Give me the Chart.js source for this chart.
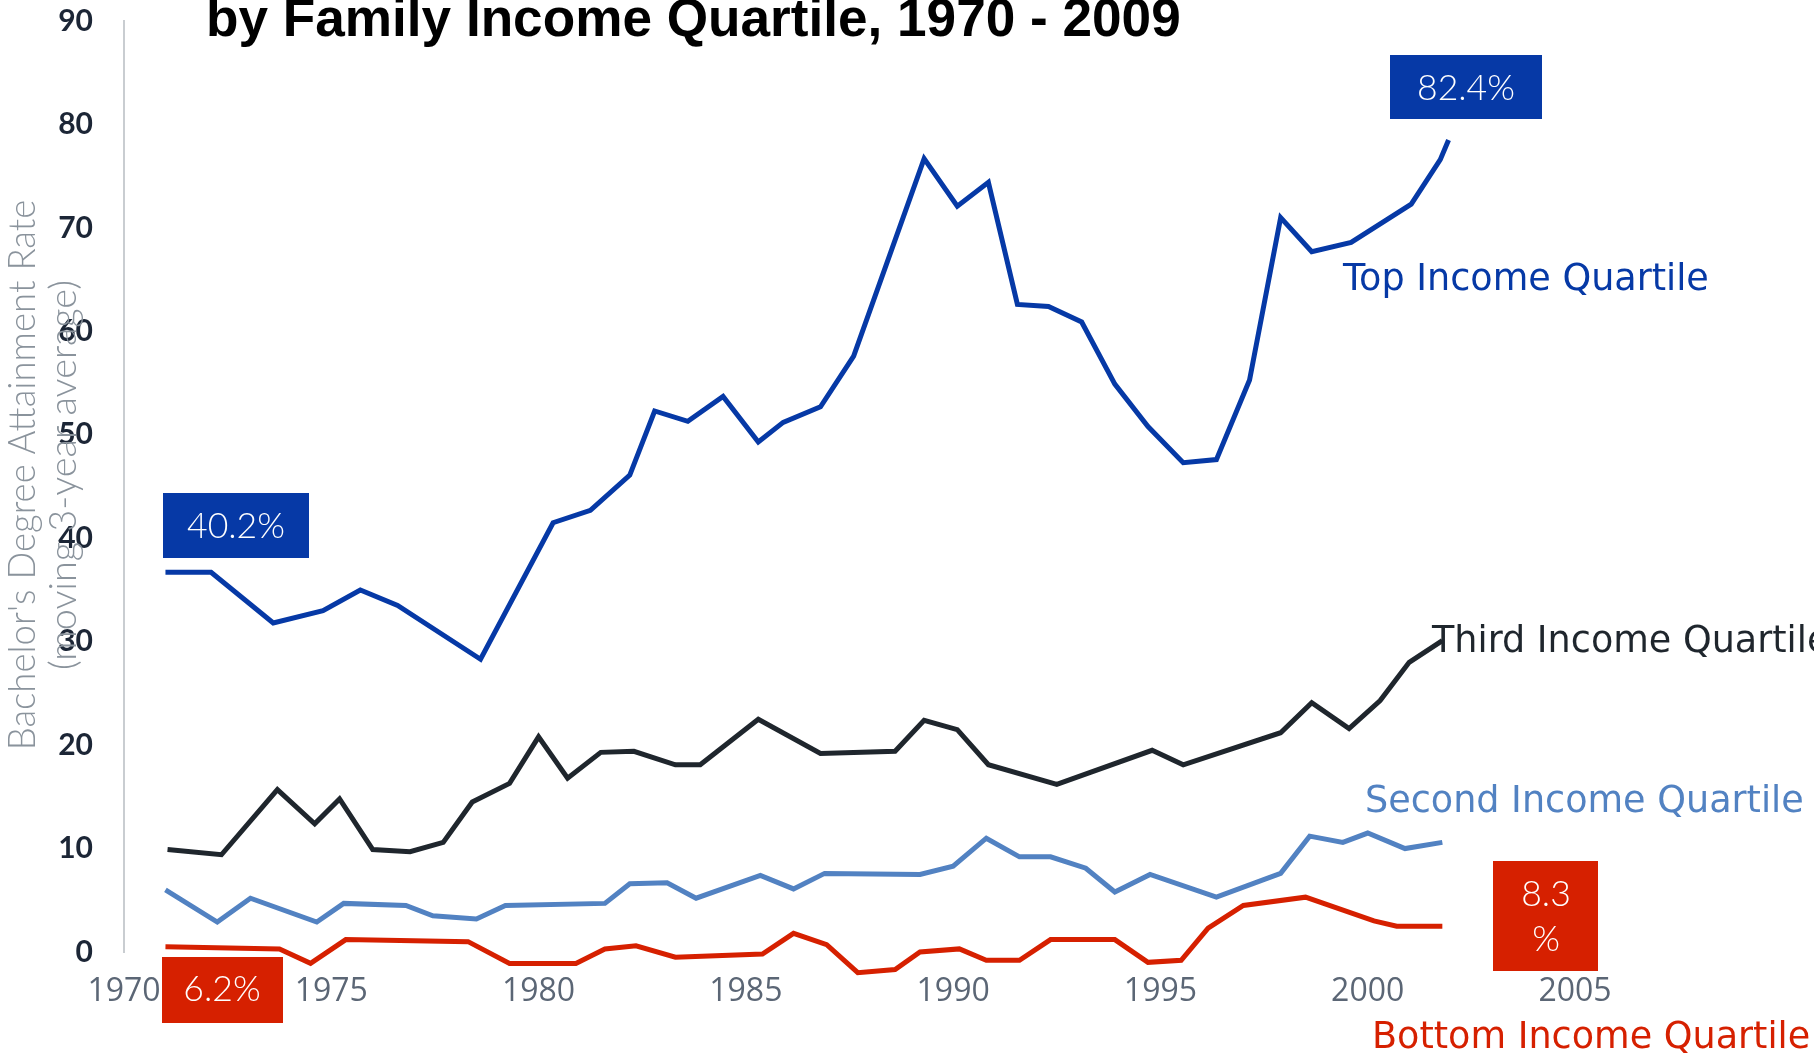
<!DOCTYPE html>
<html><head><meta charset="utf-8">
<script src="https://cdn.jsdelivr.net/npm/chart.js@4.4.0/dist/chart.umd.min.js"></script>
<style>html,body{margin:0;padding:0;background:#fff;overflow:hidden}#wrap{position:relative;width:1814px;height:1053px}</style>
</head><body><div id="wrap"><canvas id="c"></canvas></div>
<script>
// ---- data ----
const xTicks = [1970, 1975, 1980, 1985, 1990, 1995, 2000, 2005];
const yTicks = [0, 10, 20, 30, 40, 50, 60, 70, 80, 90];

const topYears   = [1971.0,1972.1,1973.6,1974.8,1975.7,1976.6,1978.6,1980.35,1981.25,1982.2,1982.8,1983.6,1984.45,1985.3,1985.9,1986.8,1987.6,1989.3,1990.1,1990.85,1991.55,1992.3,1993.1,1993.9,1994.7,1995.55,1996.35,1997.15,1997.9,1998.65,1999.6,2001.05,2001.75,2001.95];
const topValues  = [36.7,36.7,31.8,33.0,35.0,33.5,28.3,41.5,42.7,46.1,52.3,51.3,53.7,49.3,51.2,52.7,57.6,76.7,72.1,74.4,62.6,62.4,60.9,54.9,50.8,47.3,47.6,55.3,71.0,67.7,68.6,72.3,76.6,78.5];

const thirdYears  = [1971.05,1972.35,1973.7,1974.6,1975.2,1976.0,1976.9,1977.7,1978.4,1979.3,1980.0,1980.7,1981.5,1982.3,1983.3,1983.9,1985.3,1986.8,1988.6,1989.3,1990.1,1990.85,1992.5,1994.8,1995.55,1997.9,1998.65,1999.55,2000.3,2001.0,2001.8];
const thirdValues = [9.9,9.4,15.7,12.4,14.8,9.9,9.7,10.6,14.5,16.3,20.8,16.8,19.3,19.4,18.1,18.1,22.5,19.2,19.4,22.4,21.5,18.1,16.2,19.5,18.1,21.2,24.1,21.6,24.3,28.0,30.1];

const secondYears  = [1971.0,1972.25,1973.05,1974.65,1975.3,1976.8,1977.45,1978.5,1979.2,1981.6,1982.2,1983.1,1983.8,1985.35,1986.15,1986.9,1989.2,1990.0,1990.8,1991.6,1992.35,1993.2,1993.9,1994.75,1996.35,1997.9,1998.6,1999.4,2000.0,2000.9,2001.8];
const secondValues = [6.0,2.9,5.2,2.9,4.7,4.5,3.5,3.2,4.5,4.7,6.6,6.7,5.2,7.4,6.1,7.6,7.5,8.3,11.0,9.2,9.2,8.1,5.8,7.5,5.3,7.6,11.2,10.6,11.5,10.0,10.6];

const bottomYears  = [1971.0,1973.75,1974.5,1975.35,1978.3,1979.3,1980.9,1981.6,1982.35,1983.3,1985.4,1986.15,1986.95,1987.7,1988.6,1989.2,1990.15,1990.8,1991.6,1992.35,1993.9,1994.7,1995.5,1996.15,1997.0,1998.5,2000.15,2000.7,2001.8];
const bottomValues = [0.5,0.3,-1.1,1.2,1.0,-1.1,-1.1,0.3,0.6,-0.5,-0.2,1.8,0.7,-2.0,-1.7,0.0,0.3,-0.8,-0.8,1.2,1.2,-1.0,-0.8,2.3,4.5,5.3,3.0,2.5,2.5];

const seriesNames = ['Top Income Quartile', 'Third Income Quartile', 'Second Income Quartile', 'Bottom Income Quartile'];
const titleText = 'by Family Income Quartile, 1970 - 2009';
const yTitle = ["Bachelor's Degree Attainment Rate", '(moving 3-year average)'];
const boxTexts = ['40.2%', '82.4%', '6.2%', ['8.3', '%']];

// ---- styles ----
const C_TOP = '#0639a6', C_THIRD = '#1f262d', C_SECOND = '#5282c2', C_BOTTOM = '#d62000';

function pts(xs, ys) { return xs.map((x, i) => ({ x: x, y: ys[i] })); }
function ds(label, xs, ys, color) {
  return { label, data: pts(xs, ys), borderColor: color, backgroundColor: color, borderWidth: 5,
           pointRadius: 0, tension: 0, clip: false, borderJoinStyle: 'miter' };
}
function fitSize(ctx, text, weight, family, targetW, base) {
  ctx.font = `${weight} ${base}px ${family}`;
  return base * targetW / ctx.measureText(text).width;
}

const annot = {
  id: 'annot',
  afterDatasetsDraw(chart) {
    const ctx = chart.ctx;
    ctx.save();
    // title
    const TF = '"Liberation Sans", Arial, sans-serif';
    let fs = fitSize(ctx, titleText, 'bold', TF, 975, 44);
    ctx.font = `bold ${fs}px ${TF}`;
    ctx.fillStyle = '#000'; ctx.textAlign = 'left'; ctx.textBaseline = 'alphabetic';
    ctx.fillText(titleText, 206, 36);

    // y axis title (two rotated lines)
    const YF = 'Lato, "Open Sans", sans-serif';
    ctx.fillStyle = '#8a939c';
    const ylines = [[yTitle[0], 23, 551], [yTitle[1], 64, 390]];
    ylines.forEach(([t, cx, len]) => {
      ctx.save();
      ctx.translate(cx, 475); ctx.rotate(-Math.PI / 2);
      const s = fitSize(ctx, t, '300', YF, len, 30);
      ctx.font = `300 ${s}px ${YF}`;
      ctx.textAlign = 'center'; ctx.textBaseline = 'middle';
      ctx.fillText(t, 0, 0);
      ctx.restore();
    });

    // value boxes
    const BF = 'Lato, "Open Sans", sans-serif';
    const bs = fitSize(ctx, boxTexts[0], '300', BF, 98, 36);
    ctx.font = `300 ${bs}px ${BF}`;
    ctx.textAlign = 'center'; ctx.textBaseline = 'middle';
    const boxes = [
      [163, 493, 146, 65, C_TOP, [[boxTexts[0], 236, 527]]],
      [1390, 55, 152, 64, C_TOP, [[boxTexts[1], 1466, 89]]],
      [162, 957, 121, 66, C_BOTTOM, [[boxTexts[2], 222, 990]]],
      [1493, 861, 105, 110, C_BOTTOM, [[boxTexts[3][0], 1546, 895], [boxTexts[3][1], 1546, 940]]]
    ];
    boxes.forEach(([x, y, w, h, col, texts]) => {
      ctx.fillStyle = col; ctx.fillRect(x, y, w, h);
      ctx.fillStyle = '#fff';
      texts.forEach(([t, tx, ty]) => ctx.fillText(t, tx, ty));
    });

    // series labels
    const SF = '"DejaVu Sans", Verdana, sans-serif';
    const ss = fitSize(ctx, seriesNames[0], 'normal', SF, 366, 36);
    ctx.font = `normal ${ss}px ${SF}`;
    ctx.textAlign = 'left'; ctx.textBaseline = 'alphabetic';
    const lbls = [[seriesNames[0], 1343, 290, C_TOP], [seriesNames[1], 1432, 652, C_THIRD],
                  [seriesNames[2], 1365, 812, C_SECOND], [seriesNames[3], 1372, 1048, C_BOTTOM]];
    lbls.forEach(([t, x, y, col]) => { ctx.fillStyle = col; ctx.fillText(t, x, y); });
    ctx.restore();
  }
};

new Chart(document.getElementById('c'), {
  type: 'line',
  data: { datasets: [
    ds(seriesNames[0], topYears, topValues, C_TOP),
    ds(seriesNames[1], thirdYears, thirdValues, C_THIRD),
    ds(seriesNames[2], secondYears, secondValues, C_SECOND),
    ds(seriesNames[3], bottomYears, bottomValues, C_BOTTOM)
  ]},
  options: {
    responsive: true, maintainAspectRatio: false, animation: false,
    layout: { padding: { left: 0, top: 21, right: 239, bottom: 0 } },
    plugins: { legend: { display: false }, tooltip: { enabled: false }, title: { display: false } },
    scales: {
      x: {
        type: 'linear', min: 1970, max: 2005,
        grid: { display: false, drawTicks: false }, border: { display: false },
        afterBuildTicks: s => { s.ticks = xTicks.map(v => ({ value: v })); },
        afterFit: s => { s.height = 101; },
        ticks: { padding: 21, color: '#5b6675', font: { family: '"Open Sans", sans-serif', size: 32 },
                 callback: v => String(v), maxRotation: 0, autoSkip: false }
      },
      y: {
        min: 0, max: 90,
        grid: { display: false, drawTicks: false },
        border: { display: true, color: '#c9cdd1', width: 2 },
        afterBuildTicks: s => { s.ticks = yTicks.map(v => ({ value: v })); },
        afterFit: s => { s.width = 124; s.paddingTop = 0; s.paddingBottom = 0; },
        ticks: { padding: 31, color: '#1c2636', font: { family: 'Lato, sans-serif', size: 30, weight: 'bold' } }
      }
    }
  },
  plugins: [annot]
});
</script>
</body></html>
